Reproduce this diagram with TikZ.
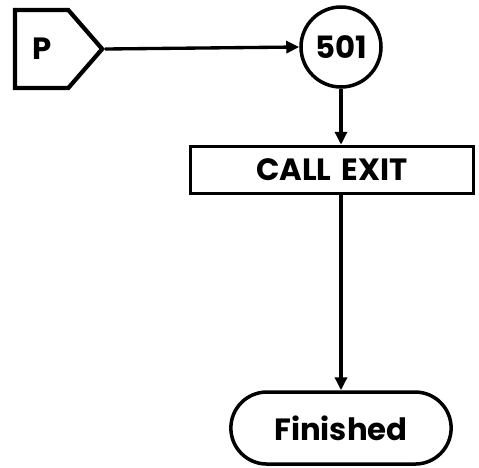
\documentclass[tikz,border=0pt]{standalone}
\usepackage{fontspec}
\newfontfamily\chartfont{Poppins}
\usepackage{tikz}
\usetikzlibrary{arrows.meta, positioning, shapes.symbols, shapes.misc}

\begin{document}
\begin{tikzpicture}[
  font=\chartfont\bfseries\fontsize{17.5}{20}\selectfont,
  offpage/.style={draw, line width=2.4pt, shape=signal, signal to=east, signal pointer angle=98, inner xsep=0.34cm, minimum height=1.56cm},
  connector/.style={draw, line width=2pt, circle, minimum size=1.6cm, inner sep=0pt},
  procbox/.style={draw, line width=2pt, minimum width=5.66cm, minimum height=0.94cm},
  term/.style={draw, line width=2pt, rounded rectangle, minimum width=4.64cm, minimum height=1.44cm},
  arrow/.style={-{Triangle[length=0.26cm, width=0.24cm]}, line width=1.9pt}
]
  \useasboundingbox (0,0) rectangle (9.58,-9.34);

  \node[offpage, anchor=west] (p) at (0.26,-0.98) {P};
  \node[connector] (c501) at (6.82,-0.94) {501};
  \node[procbox, below=1.12cm of c501, xshift=-0.18cm] (call) {CALL\,\,EXIT};
  \node[term, below=3.9cm of call, xshift=0.18cm] (fin) {Finished};

  \draw[arrow] (p.east) -- (c501.west);
  \draw[arrow] (c501.south) -- (c501.south |- call.north);
  \draw[arrow] (call.south -| fin.north) -- (fin.north);
\end{tikzpicture}
\end{document}
